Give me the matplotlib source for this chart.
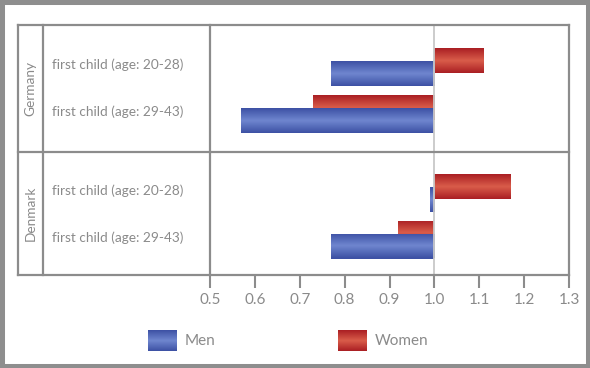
import numpy as np
import matplotlib
matplotlib.use("Agg")
import matplotlib.pyplot as plt
from matplotlib.colors import LinearSegmentedColormap
from matplotlib.patches import Rectangle
from matplotlib.lines import Line2D

# ── Data ─────────────────────────────────────────────
countries = ["Germany", "Denmark"]
row_labels = ["first child (age: 20-28)", "first child (age: 29-43)",
              "first child (age: 20-28)", "first child (age: 29-43)"]
men = [0.77, 0.57, 0.99, 0.77]
women = [1.11, 0.73, 1.17, 0.92]
xticks = [0.5, 0.6, 0.7, 0.8, 0.9, 1.0, 1.1, 1.2, 1.3]

# ── Layout (pixels on a 590x368 canvas) ─────────────
W, H = 590, 368
row_pos = [42, 89, 168, 214.5]      # row centers, px below top of table
BAR_H = 25
OFF = 6.5

plt.rcParams["font.family"] = ["Lato", "DejaVu Sans"]

GRAY = "#8c8c8c"
TXT = "#8a8a8a"
BLUE = ("#3d51a4", "#6f86cf")
RED = ("#aa1f23", "#d95c4a")


def fx(px):
    return px / W


def fy(py):
    return 1 - py / H


def gradient_fill(ax, patch, colors, z):
    cmap = LinearSegmentedColormap.from_list("g", [colors[0], colors[1], colors[0]])
    x, y = patch.get_xy()
    w, h = patch.get_width(), patch.get_height()
    grad = np.abs(np.linspace(-1, 1, 65)).reshape(-1, 1)
    grad = 1 - grad
    im = ax.imshow(grad * 0.5, extent=(min(x, x + w), max(x, x + w), y, y + h),
                   cmap=cmap, vmin=0, vmax=1, aspect="auto", zorder=z,
                   interpolation="bilinear")
    im.set_clip_path(patch)


fig = plt.figure(figsize=(W / 100, H / 100), dpi=100)
fig.patch.set_facecolor("white")

ax = fig.add_axes([fx(210), fy(275), fx(569) - fx(210), fy(25) - fy(275)])

centers = np.array(row_pos)
wbars = ax.barh(centers - OFF, [v - 1 for v in women], left=1.0, height=BAR_H,
                color=RED[0], edgecolor="none", zorder=2)
mbars = ax.barh(centers + OFF, [v - 1 for v in men], left=1.0, height=BAR_H,
                color=BLUE[0], edgecolor="none", zorder=3)
for b in wbars:
    gradient_fill(ax, b, RED, 2.1)
for b in mbars:
    gradient_fill(ax, b, BLUE, 3.1)

ax.axvline(1.0, color="#c8c8c8", lw=1.3, zorder=4)

ax.set_xlim(0.5, 1.3)
ax.set_ylim(250, 0)
ax.set_xticks(xticks)
ax.set_xticklabels([f"{t:.1f}" for t in xticks])
ax.set_yticks([])
ax.tick_params(axis="x", direction="out", length=9, width=1.5, color=GRAY,
               labelcolor=TXT, labelsize=11, pad=4)
for s in ax.spines.values():
    s.set_visible(False)

# table lines
lines = [
    ((18, 569), (25, 25)), ((18, 569), (275, 275)), ((18, 569), (152, 152)),
    ((18, 18), (25, 275)), ((43, 43), (25, 275)), ((210, 210), (25, 275)),
    ((569, 569), (25, 275)),
]
for xs, ys in lines:
    fig.add_artist(Line2D([fx(xs[0]), fx(xs[1])], [fy(ys[0]), fy(ys[1])],
                          color=GRAY, lw=1.6, transform=fig.transFigure))

# row labels
for lab, c in zip(row_labels, row_pos):
    fig.text(fx(52), fy(25 + c - 2), lab, color=TXT, fontsize=9.8,
             ha="left", va="center")

# country labels
for name, yc in zip(countries, [88.5, 213.5]):
    fig.text(fx(30.5), fy(yc), name, color=TXT, fontsize=9.8, rotation=90,
             ha="center", va="center")

# legend
for label, cols, x0 in [("Men", BLUE, 148), ("Women", RED, 338)]:
    lax = fig.add_axes([fx(x0), fy(351), fx(29), 21 / H])
    lax.axis("off")
    r = Rectangle((0, 0), 1, 1, facecolor=cols[0], edgecolor="none")
    lax.add_patch(r)
    gradient_fill(lax, r, cols, 2)
    lax.set_xlim(0, 1)
    lax.set_ylim(0, 1)
    fig.text(fx(x0 + 37), fy(341), label, color=TXT, fontsize=11,
             ha="left", va="center")

# outer frame
fig.add_artist(Rectangle((0, 0), 1, 1, transform=fig.transFigure,
                         fill=False, edgecolor="#8e8e8e", lw=6.5))

fig.savefig("out.png", dpi=100)
